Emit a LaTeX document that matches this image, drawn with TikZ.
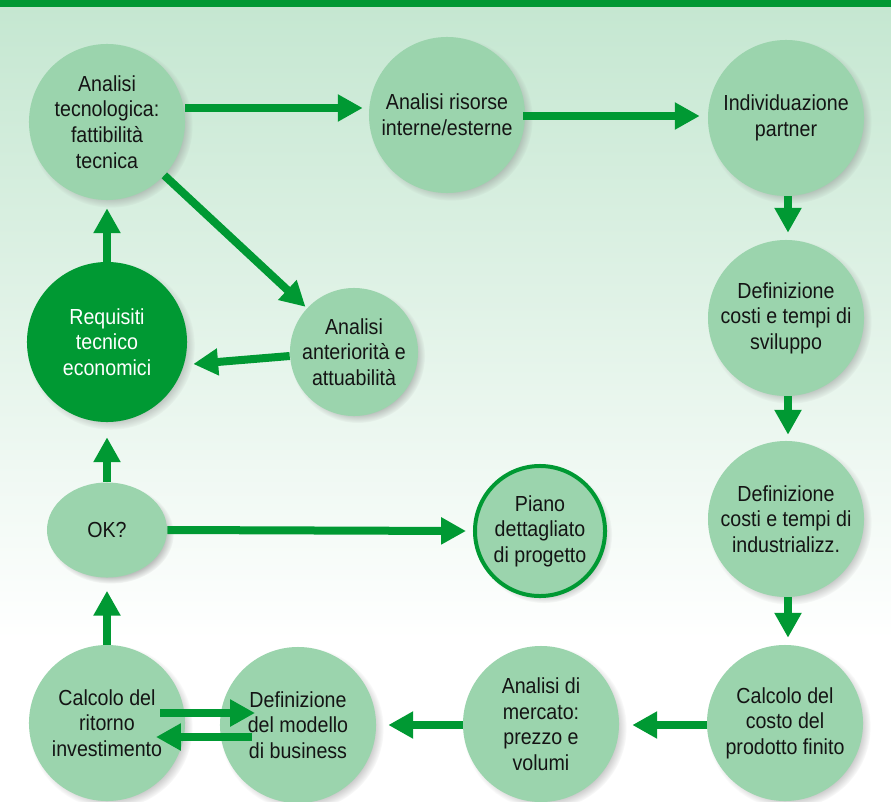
\documentclass[tikz,border=0pt]{standalone}
\usepackage{fontspec}
\setmainfont[FakeStretch=0.9]{Liberation Sans}
\usetikzlibrary{arrows.meta, calc, shadows, shapes.geometric}
\definecolor{mainGreen}{RGB}{0,153,51}
\definecolor{lightGreen}{RGB}{155,212,173}
\definecolor{bgGreen}{RGB}{197,231,209}
\definecolor{textBlack}{gray}{0.08}

\begin{document}
\begin{tikzpicture}[x=0.025cm, y=-0.025cm, >={Triangle[length=0.62cm, width=0.64cm]},
    flow/.style={->, line width=0.2cm, mainGreen},
    bubble/.style={circle, fill=lightGreen, text=textBlack, inner sep=0pt,
        minimum size=3.9cm, align=center, font=\fontsize{15.5}{18.2}\selectfont,
        circular drop shadow={shadow xshift=0.09cm, shadow yshift=-0.09cm,
            shadow scale=1.05, opacity=0.5}}]
    \useasboundingbox (0,0) rectangle (891,801);

    % background
    \fill[white] (0,0) rectangle (891,801);
    \shade[top color=bgGreen, bottom color=white] (0,7) rectangle (891,640);
    \fill[mainGreen] (0,0) rectangle (891,7);

    % top row
    \node[bubble] (tec) at (107,122) {Analisi\\tecnologica:\\fattibilità\\tecnica};
    \node[bubble] (ris) at (447,115) {Analisi risorse\\interne/esterne};
    \node[bubble] (part) at (786,118) {Individuazione\\partner};

    % right column
    \node[bubble] (svil) at (786,318) {Definizione\\costi e tempi di\\sviluppo};
    \node[bubble] (ind) at (786,519) {Definizione\\costi e tempi di\\industrializz.};
    \node[bubble] (costo) at (785,723) {Calcolo del\\costo del\\prodotto finito};

    % bottom row
    \node[bubble] (merc) at (541,724) {Analisi di\\mercato:\\prezzo e\\volumi};
    \node[bubble] (bus) at (298,725) {Definizione\\del modello\\di business};
    \node[bubble] (rit) at (107,723) {Calcolo del\\ritorno\\investimento};

    % left side
    \node[bubble, ellipse, minimum width=3cm, minimum height=2.375cm] (ok) at (107,530) {OK?};
    \node[bubble, minimum size=3.25cm, draw=mainGreen, line width=0.1cm] (piano) at (540,531) {Piano\\dettagliato\\di progetto};
    \node[bubble, minimum size=4cm, fill=mainGreen, text=white] (req) at (107,342) {Requisiti\\tecnico\\economici};
    \node[bubble, minimum size=3.2cm] (ant) at (354,352) {Analisi\\anteriorità e\\attuabilità};

    % cycle
    \draw[flow] ($(tec.east)+(0,-14)$) -- ($(ris.west)+(-6,-7)$);
    \draw[flow] ($(ris.east)+(-2,1)$) -- ($(part.west)+(-8,-2)$);
    \draw[flow] ($(part.south)+(2,0)$) -- ($(svil.north)+(2,-7)$);
    \draw[flow] ($(svil.south)+(2,0)$) -- ($(ind.north)+(2,-6)$);
    \draw[flow] ($(ind.south)+(2,0)$) -- ($(costo.north)+(3,-7)$);
    \draw[flow] ($(costo.west)+(0,2)$) -- ($(merc.east)+(13,1)$);
    \draw[flow] ($(merc.west)+(0,1)$) -- ($(bus.east)+(12,0)$);

    % business loop
    \draw[flow] ($(rit.center)+(53,-10)$) -- ($(bus.center)+(-43,-12)$);
    \draw[flow] ($(bus.center)+(-46,12)$) -- ($(rit.center)+(49,14)$);

    % check
    \draw[flow] (rit.north) -- ($(ok.south)+(0,13)$);
    \draw[flow] (ok.east) -- ($(piano.west)+(-7,0)$);
    \draw[flow] (ok.north) -- ($(req.south)+(0,15)$);
    \draw[flow] (req.north) -- ($(tec.south)+(0,8)$);

    % anteriorita
    \draw[flow, shorten >=0.05cm] (tec) -- (ant);
    \draw[flow] ($(ant.west)+(0,4)$) -- ($(req.east)+(6,22)$);
\end{tikzpicture}
\end{document}
